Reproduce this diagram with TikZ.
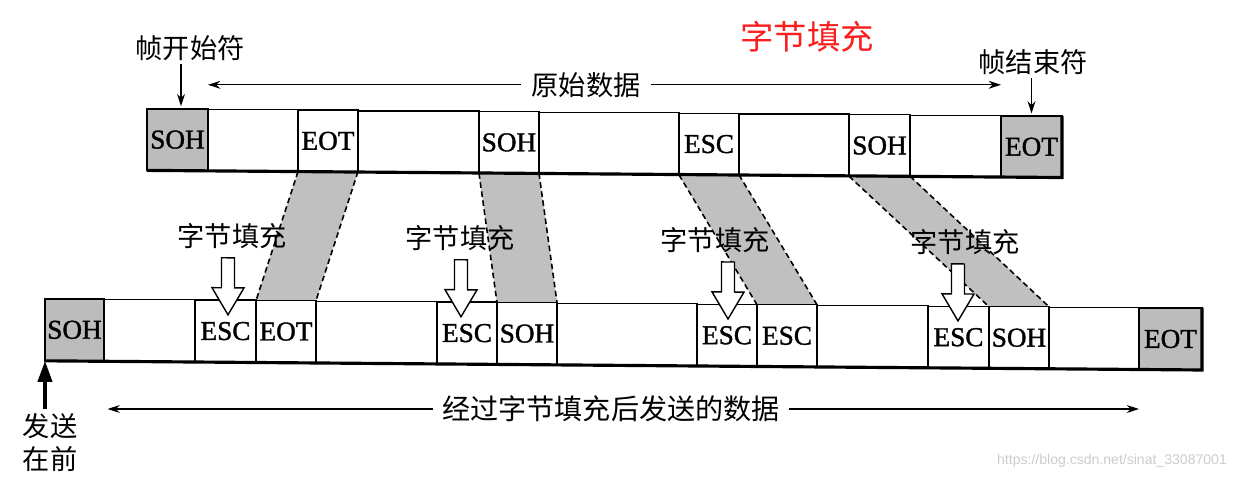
\documentclass[tikz,border=0pt]{standalone}
\usepackage{fontspec}
\setmainfont{Liberation Serif}
\newfontfamily\cellfont{Liberation Serif}[FakeBold=1.3]
\newfontfamily\cjk{Noto Sans CJK SC}
\newfontfamily\wmfont{Liberation Sans}
\usetikzlibrary{arrows.meta}
\pgfdeclarelayer{bg}
\pgfsetlayers{bg,main}
\definecolor{bandgray}{RGB}{192,192,192}
\definecolor{cellgray}{RGB}{188,188,188}
\definecolor{titlered}{RGB}{250,30,30}
\definecolor{wmgray}{RGB}{205,205,205}
\tikzset{
  cellbox/.style={draw, line width=0.8pt, fill=white, inner sep=0pt, outer sep=0pt,
    font=\cellfont\fontsize{15.5pt}{18pt}\selectfont},
  grayed/.style={fill=cellgray},
  lbl/.style={font=\cjk\fontsize{15.5pt}{18.8pt}\selectfont, inner sep=2pt},
  thinarrow/.style={line width=0.7pt, -{Stealth[length=7pt,width=4.5pt]}},
  bandedge/.style={line width=0.9pt, dash pattern=on 3.2pt off 2pt},
  hollow/.style={draw, fill=white, line width=0.8pt, line join=miter},
  barshadow/.style={line width=1.8pt},
  sendarrow/.style={line width=2.2pt, -{Triangle[length=12pt,width=8pt]}},
}
\newcommand\cellnode[6]{%
  \pgfmathsetmacro\cellW{(#3-#2)*0.02}%
  \pgfmathsetmacro\cellH{(#5-#4)*0.02}%
  \node[cellbox,#6,minimum width=\cellW cm,minimum height=\cellH cm] (#1) at ({(#2+#3)/2},{(#4+#5)/2})}
\newcommand\hollowarrow[1]{%
  \draw[hollow] ({#1-6.5},261) -- ({#1-6.5},291) -- ({#1-16},291) -- (#1,318)
    -- ({#1+16},291) -- ({#1+6.5},291) -- ({#1+6.5},261) -- cycle;}
\begin{document}
\begin{tikzpicture}[x=0.02cm, y=-0.02cm]
\begin{pgfonlayer}{bg}
\fill[white] (0,0) rectangle (1250,479);
\end{pgfonlayer}
\useasboundingbox (0,0) rectangle (1250,479);

\node[font=\cjk\fontsize{19pt}{22pt}\selectfont, text=titlered] (title) at (807,37) {字节填充};
\node[font=\wmfont\fontsize{8pt}{9pt}\selectfont, text=wmgray] (wm) at (1112,461) {https://blog.csdn.net/sinat\_33087001};

\begin{scope}[x={(0.02cm,-0.00017cm)}, y={(0cm,-0.02cm)}, shift={(0cm,0.102cm)}]
% top bar
\cellnode{tSOH}{147}{208}{112.5}{174}{grayed} {SOH};
\cellnode{tB1}{208}{298}{112.5}{174}{} {};
\cellnode{tEOT}{298}{358}{112.5}{174}{} {EOT};
\cellnode{tB2}{358}{479}{112.5}{174}{} {};
\cellnode{tSOH2}{479}{539}{112.5}{174}{} {SOH};
\cellnode{tB3}{539}{679}{112.5}{174}{} {};
\cellnode{tESC}{679}{739}{112.5}{174}{} {ESC};
\cellnode{tB4}{739}{849}{112.5}{174}{} {};
\cellnode{tSOH3}{849}{910}{112.5}{174}{} {SOH};
\cellnode{tB5}{910}{1001}{112.5}{174}{} {};
\cellnode{tEOT2}{1001}{1062}{112.5}{174}{grayed} {EOT};
\draw[barshadow] (tSOH.south west) -- (tEOT2.south east) -- (tEOT2.north east);

% bottom bar
\cellnode{bSOH}{45}{104}{303.3}{365.3}{grayed} {SOH};
\cellnode{bB1}{104}{195}{303.3}{365.3}{} {};
\cellnode{bESC1}{195}{256}{303.3}{365.3}{} {ESC};
\cellnode{bEOT}{256}{316}{303.3}{365.3}{} {EOT};
\cellnode{bB2}{316}{437}{303.3}{365.3}{} {};
\cellnode{bESC2}{437}{497}{303.3}{365.3}{} {ESC};
\cellnode{bSOH2}{497}{557}{303.3}{365.3}{} {SOH};
\cellnode{bB3}{557}{697}{303.3}{365.3}{} {};
\cellnode{bESC3}{697}{757}{303.3}{365.3}{} {ESC};
\cellnode{bESC4}{757}{817}{303.3}{365.3}{} {ESC};
\cellnode{bB4}{817}{928}{303.3}{365.3}{} {};
\cellnode{bESC5}{928}{989}{303.3}{365.3}{} {ESC};
\cellnode{bSOH3}{989}{1049}{303.3}{365.3}{} {SOH};
\cellnode{bB5}{1049}{1139}{303.3}{365.3}{} {};
\cellnode{bEOT2}{1139}{1202}{303.3}{365.3}{grayed} {EOT};
\draw[barshadow] (bSOH.south west) -- (bEOT2.south east) -- (bEOT2.north east);

% bands
\begin{pgfonlayer}{bg}
\foreach \a/\b in {tEOT/bEOT, tSOH2/bSOH2, tESC/bESC4, tSOH3/bSOH3} {
  \fill[bandgray] (\a.south west) -- (\a.south east) -- (\b.north east) -- (\b.north west) -- cycle;
}
\end{pgfonlayer}
\foreach \a/\b in {tEOT/bEOT, tSOH2/bSOH2, tESC/bESC4, tSOH3/bSOH3} {
  \draw[bandedge] (\a.south west) -- (\b.north west);
  \draw[bandedge] (\a.south east) -- (\b.north east);
}

% hollow arrows
\hollowarrow{228}
\hollowarrow{461}
\hollowarrow{728}
\hollowarrow{958}

% labels
\node[lbl] (f1) at (232,239) {字节填充};
\node[lbl] (f2) at (460,239) {字节填充};
\node[lbl] (f3) at (715,239) {字节填充};
\node[lbl] (f4) at (965,239) {字节填充};

\node[lbl] (start) at (190,51.5) {帧开始符};
\draw[thinarrow, shorten >=1.5pt] ([xshift=2pt]tSOH.north |- start.south) -- ([xshift=2pt]tSOH.north);
\node[lbl] (endl) at (1033,58.3) {帧结束符};
\draw[thinarrow, shorten >=1.5pt] (tEOT2.north |- endl.south) -- (tEOT2.north);

\node[lbl, inner xsep=6pt] (orig) at (586,85) {原始数据};
\draw[thinarrow] (orig.west) -- (orig.west -| tSOH.east);
\draw[thinarrow] (orig.east) -- (orig.east -| tEOT2.west);

\node[lbl, font=\cjk\fontsize{16pt}{19pt}\selectfont, inner xsep=5pt] (sent) at (611,409) {经过字节填充后发送的数据};
\draw[thinarrow] (sent.west) -- ([xshift=2pt]sent.west -| bSOH.east);
\draw[thinarrow] (sent.east) -- (sent.east -| bEOT2.west);

\node[lbl, align=center] (send) at (50,447) {发送\\在前};
\draw[sendarrow] (send.north -| bSOH.south west) -- (bSOH.south west);
\end{scope}
\end{tikzpicture}
\end{document}
